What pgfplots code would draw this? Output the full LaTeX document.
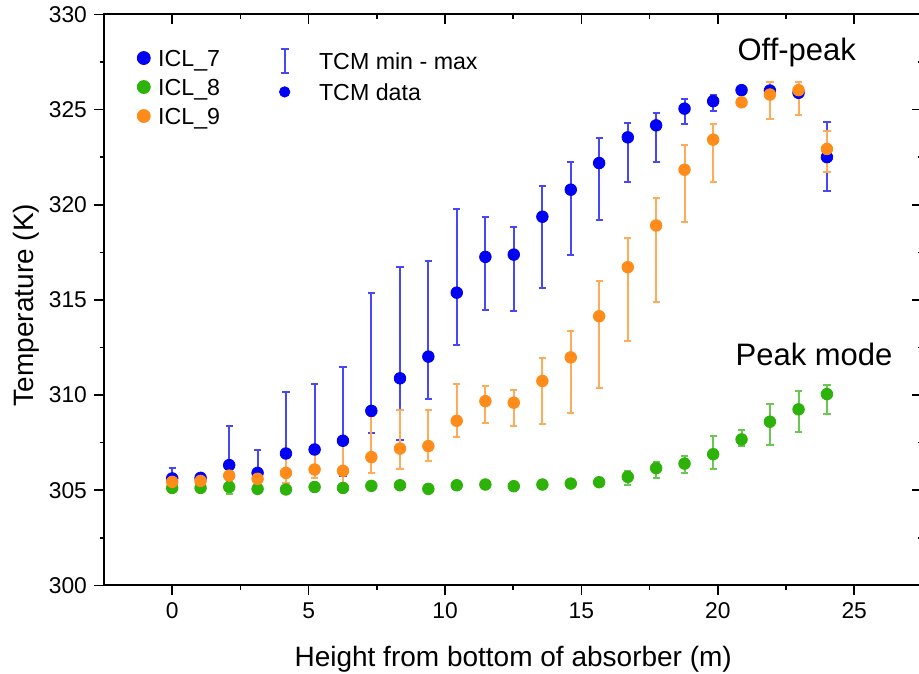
\documentclass[border=0pt]{standalone}
\usepackage{fontspec}
\setmainfont{Liberation Sans}
\usepackage{pgfplots}
\usepackage{pgfplotstable}
\pgfplotsset{compat=1.18}

\definecolor{iclblue}{RGB}{0,0,245}
\definecolor{iclgreen}{RGB}{45,178,10}
\definecolor{iclorange}{RGB}{255,140,26}

% x  = height (m), y = TCM data (K), lo/hi = TCM min and max (K)
\pgfplotstableread{
x      y       lo      hi
0      305.62  305.35  306.19
1.04   305.65  305.45  305.80
2.09   306.32  305.70  308.38
3.13   305.91  305.60  307.10
4.17   306.93  305.40  310.17
5.22   307.14  305.63  310.60
6.26   307.60  305.75  311.47
7.30   309.17  308.00  315.35
8.35   310.88  307.63  316.72
9.39   312.02  309.77  317.03
10.43  315.38  312.63  319.80
11.48  317.26  314.47  319.37
12.52  317.38  314.44  318.84
13.57  319.37  315.60  321.00
14.61  320.79  317.37  322.26
15.65  322.19  319.21  323.50
16.70  323.54  321.19  324.30
17.74  324.17  322.25  324.83
18.78  325.05  324.23  325.54
19.83  325.44  324.95  325.75
20.87  326.02  325.80  326.26
21.91  326.00  325.80  326.20
22.96  325.88  325.70  326.10
24     322.50  320.70  324.35
}\iclseven

\pgfplotstableread{
x      y       lo      hi
0      305.12  305.00  305.25
1.04   305.12  305.00  305.25
2.09   305.17  304.82  305.50
3.13   305.07  304.95  305.20
4.17   305.04  304.92  305.16
5.22   305.17  305.05  305.29
6.26   305.12  305.00  305.24
7.30   305.23  305.11  305.35
8.35   305.26  305.14  305.38
9.39   305.07  304.95  305.19
10.43  305.26  305.14  305.38
11.48  305.30  305.18  305.42
12.52  305.21  305.09  305.33
13.57  305.30  305.18  305.42
14.61  305.35  305.20  305.50
15.65  305.42  305.25  305.58
16.70  305.70  305.30  306.00
17.74  306.16  305.65  306.46
18.78  306.40  305.93  306.81
19.83  306.89  306.10  307.86
20.87  307.67  307.30  308.16
21.91  308.60  307.37  309.51
22.96  309.25  308.05  310.19
24     310.05  309.00  310.51
}\icleight

\pgfplotstableread{
x      y       lo      hi
0      305.44  305.30  305.60
1.04   305.49  305.35  305.65
2.09   305.77  305.17  305.98
3.13   305.60  305.30  305.90
4.17   305.91  305.40  307.00
5.22   306.09  305.63  307.19
6.26   306.02  304.96  307.46
7.30   306.74  305.91  308.91
8.35   307.19  306.09  309.21
9.39   307.32  306.54  309.21
10.43  308.65  307.81  310.56
11.48  309.68  308.54  310.47
12.52  309.60  308.40  310.25
13.57  310.74  308.49  311.97
14.61  311.98  309.04  313.35
15.65  314.14  310.37  315.98
16.70  316.72  312.82  318.26
17.74  318.91  314.88  320.37
18.78  321.84  319.09  323.12
19.83  323.42  321.19  324.23
20.87  325.38  325.20  325.55
21.91  325.79  324.53  326.44
22.96  326.02  324.74  326.47
24     322.93  321.72  323.86
}\iclnine

\pgfplotsset{
  frame/.style={
    scale only axis, width=409.2pt, height=285.5pt,
    xmin=-2.5, xmax=27.5, ymin=300, ymax=330,
    xtick={0,5,...,25}, ytick={300,305,...,330},
    minor x tick num=1, minor y tick num=1,
    major tick length=5pt, minor tick length=2.2pt,
    axis line style={line width=1pt},
    every tick/.style={black, line width=0.8pt},
    tick label style={font=\fontsize{11.4}{13}\selectfont},
    /pgf/number format/assume math mode=true,
  },
}

\begin{document}
\begin{tikzpicture}
\begin{axis}[
  name=ax, frame,
  tick align=outside, xtick pos=left, ytick pos=left,
  xlabel={Height from bottom of absorber (m)},
  ylabel={Temperature (K)},
  label style={font=\fontsize{14}{16}\selectfont},
  xlabel style={at={(axis description cs:0.5,-0.130)}, anchor=center},
  ylabel style={at={(axis description cs:-0.0953,0.491)}, anchor=center},
  legend style={at={(axis description cs:0.0397,0.939)}, anchor=north west,
    draw=none, fill=none, inner sep=0pt, row sep=6.1pt,
    font=\fontsize{11.6}{13}\selectfont,
    nodes={inner sep=0pt, text height=8.4pt, text depth=0pt}},
  legend cell align=left,
  legend image code/.code={\path (-3.25pt,0pt) (7pt,0pt); \draw[#1] plot coordinates {(0pt,0pt)};},
]
\addplot[forget plot, color=iclblue, only marks, mark=*, mark size=2.9pt,
  error bars/.cd, y dir=both, y explicit,
  error bar style={line width=1pt, color=iclblue!72!white},
  error mark options={rotate=90, mark size=1.8pt, line width=1pt, color=iclblue!72!white}]
  table[x=x, y=y,
  y error plus expr=\thisrow{hi}-\thisrow{y},
  y error minus expr=\thisrow{y}-\thisrow{lo}] {\iclseven};
\addplot[forget plot, color=iclgreen, only marks, mark=*, mark size=2.9pt,
  error bars/.cd, y dir=both, y explicit,
  error bar style={line width=1pt, color=iclgreen!72!white},
  error mark options={rotate=90, mark size=1.8pt, line width=1pt, color=iclgreen!72!white}]
  table[x=x, y=y,
  y error plus expr=\thisrow{hi}-\thisrow{y},
  y error minus expr=\thisrow{y}-\thisrow{lo}] {\icleight};
\addplot[forget plot, color=iclorange, only marks, mark=*, mark size=2.9pt,
  error bars/.cd, y dir=both, y explicit,
  error bar style={line width=1pt, color=iclorange!72!white},
  error mark options={rotate=90, mark size=1.8pt, line width=1pt, color=iclorange!72!white}]
  table[x=x, y=y,
  y error plus expr=\thisrow{hi}-\thisrow{y},
  y error minus expr=\thisrow{y}-\thisrow{lo}] {\iclnine};
\addlegendimage{only marks, mark=*, mark size=3.25pt, color=iclblue}
\addlegendentry{ICL\_7}
\addlegendimage{only marks, mark=*, mark size=3.25pt, color=iclgreen}
\addlegendentry{ICL\_8}
\addlegendimage{only marks, mark=*, mark size=3.25pt, color=iclorange}
\addlegendentry{ICL\_9}
\node[anchor=base west, inner sep=0pt, font=\fontsize{15.5}{18}\selectfont] at (axis cs:20.71,327.58) {Off-peak};
\node[anchor=base west, inner sep=0pt, font=\fontsize{15.5}{18}\selectfont] at (axis cs:20.64,311.53) {Peak mode};
\end{axis}
\begin{axis}[
  frame,
  tick align=inside, xtick pos=right, ytick pos=right,
  xticklabels={}, yticklabels={},
  legend style={at={(axis description cs:0.210,0.942)}, anchor=north west,
    draw=none, fill=none, inner sep=0pt, row sep=4.8pt,
    font=\fontsize{11.6}{13}\selectfont,
    nodes={inner sep=0pt, text height=8.4pt, text depth=0pt}},
  legend cell align=left,
]
\addlegendimage{legend image code/.code={
  \path (-4pt,0pt) (17pt,0pt);
  \draw[iclblue!72!white, line width=1pt] (0pt,-6pt) -- (0pt,6pt);
  \draw[iclblue!72!white, line width=1pt] (-2pt,-6pt) -- (2pt,-6pt);
  \draw[iclblue!72!white, line width=1pt] (-2pt,6pt) -- (2pt,6pt);}}
\addlegendentry{TCM min - max}
\addlegendimage{legend image code/.code={
  \path (-4pt,0pt) (17pt,0pt);
  \draw[only marks, mark=*, mark size=2.6pt, color=iclblue] plot coordinates {(0pt,0pt)};}}
\addlegendentry{TCM data}
\end{axis}
\pgfresetboundingbox
\path ([shift={(-52pt,-44.2pt)}]ax.south west) rectangle ([shift={(-1.7pt,7.2pt)}]ax.north east);
\end{tikzpicture}
\end{document}
